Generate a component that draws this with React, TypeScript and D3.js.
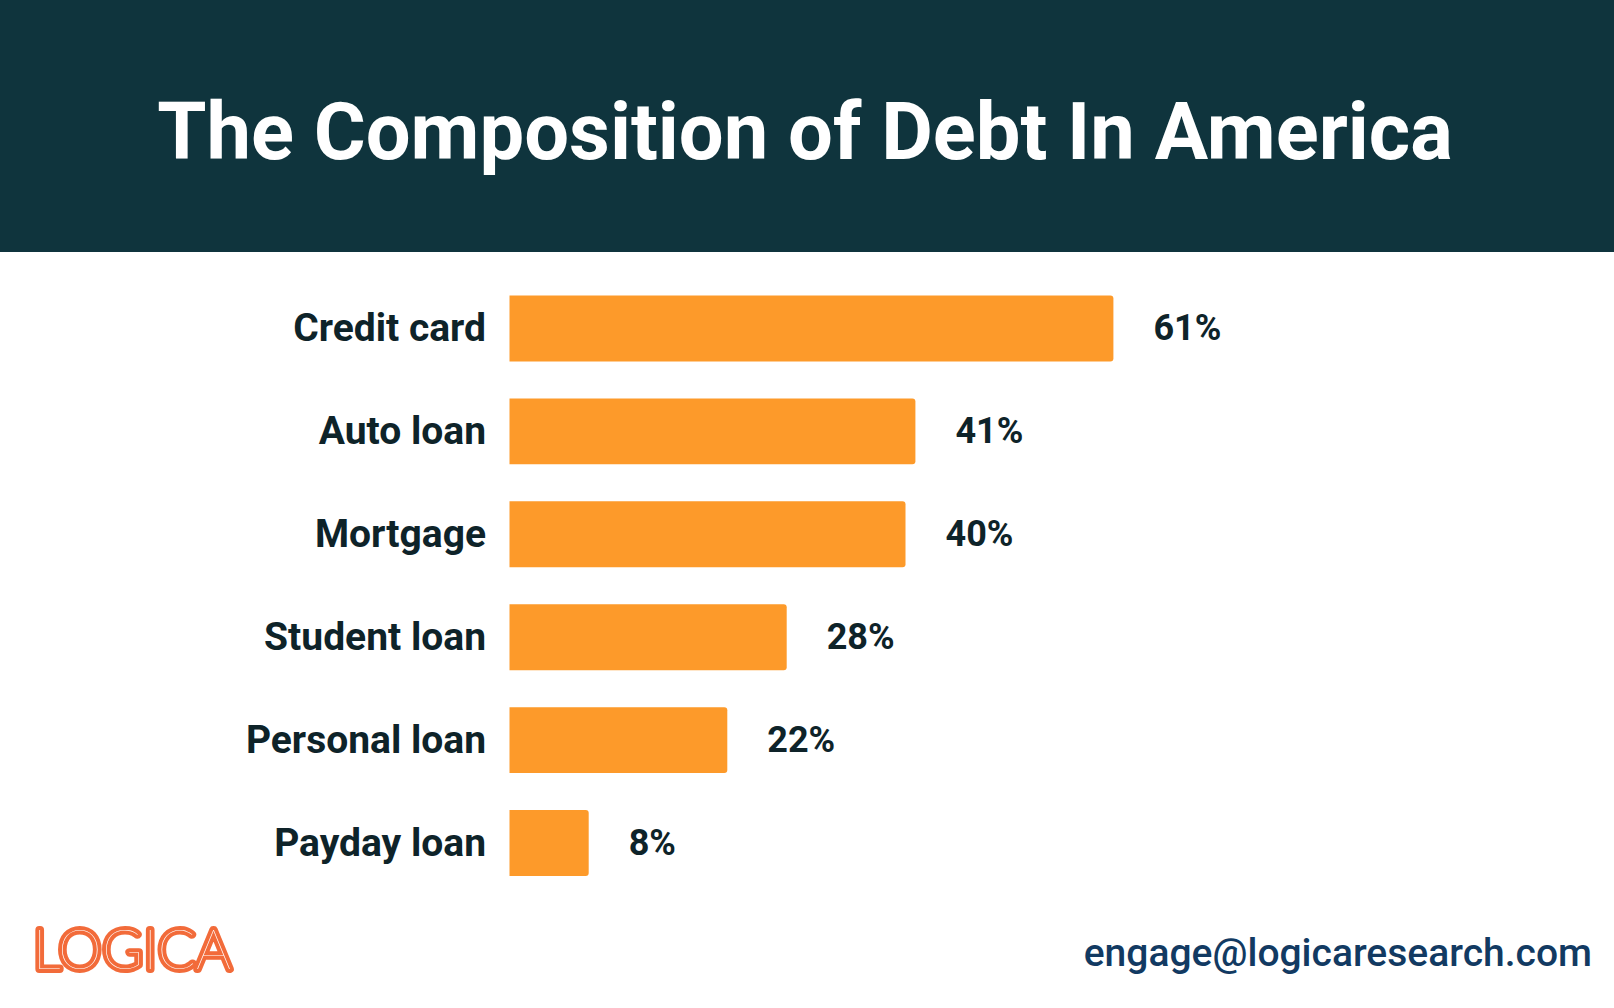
import React, { useEffect } from 'react';
import * as d3 from 'd3';

const categories = ['Credit card', 'Auto loan', 'Mortgage', 'Student loan', 'Personal loan', 'Payday loan'];
const values = [61, 41, 40, 28, 22, 8];
const valueLabels = ['61%', '41%', '40%', '28%', '22%', '8%'];

const title = 'The Composition of Debt In America';
const logoText = 'LOGICA';
const email = 'engage@logicaresearch.com';

const W = 1614, H = 1008;
const barColor = '#fd9a2a';
const ink = '#0e2329';
const font = 'Roboto, "Liberation Sans", sans-serif';

// bar with square left edge, rounded right corners
const barPath = (x0: number, x1: number, y0: number, h: number, r = 3) => {
  const p = d3.path();
  p.moveTo(x0, y0);
  p.lineTo(x1 - r, y0);
  p.quadraticCurveTo(x1, y0, x1, y0 + r);
  p.lineTo(x1, y0 + h - r);
  p.quadraticCurveTo(x1, y0 + h, x1 - r, y0 + h);
  p.lineTo(x0, y0 + h);
  p.closePath();
  return p.toString();
};

const App: React.FC = () => {
  useEffect(() => {
    document.body.style.margin = '0';
  }, []);

  const x = d3.scaleLinear().domain([0, 100]).range([509.5, 509.5 + 990]);
  const y = d3.scaleBand<string>().domain(categories).range([277, 894.5]).paddingInner(0.36).paddingOuter(0.18);

  return (
    <svg width={W} height={H} style={{ display: 'block', background: '#fff' }}>
      <rect x={0} y={0} width={W} height={252} fill="#0f343d" />
      <text x={W / 2 - 2} y={159} textAnchor="middle" fill="#fff" fontFamily={font} fontWeight={700} fontSize={79.5}>
        {title}
      </text>

      {categories.map((c, i) => {
        const y0 = y(c)!;
        const bw = y.bandwidth();
        return (
          <g key={c}>
            <path d={barPath(x(0), x(values[i]), y0, bw)} fill={barColor} />
            <text x={486} y={y0 + bw / 2 - 1} dy="0.36em" textAnchor="end" fill={ink} fontFamily={font} fontWeight={700} fontSize={39}>
              {c}
            </text>
            <text x={x(values[i]) + 40} y={y0 + bw / 2 - 1} dy="0.36em" fill={ink} fontFamily={font} fontWeight={700} fontSize={36}>
              {valueLabels[i]}
            </text>
          </g>
        );
      })}

      <text x={33} y={969} fill="#fff" stroke="#f26b3a" strokeWidth={8} strokeLinejoin="round" style={{ paintOrder: 'stroke' }}
        fontFamily="Lato, sans-serif" fontWeight={100} fontSize={55} textLength={198} lengthAdjust="spacing">
        {logoText}
      </text>
      <text x={1592} y={966} textAnchor="end" fill="#123a62" fontFamily={font} fontWeight={500} fontSize={39}>
        {email}
      </text>
    </svg>
  );
};

export default App;
